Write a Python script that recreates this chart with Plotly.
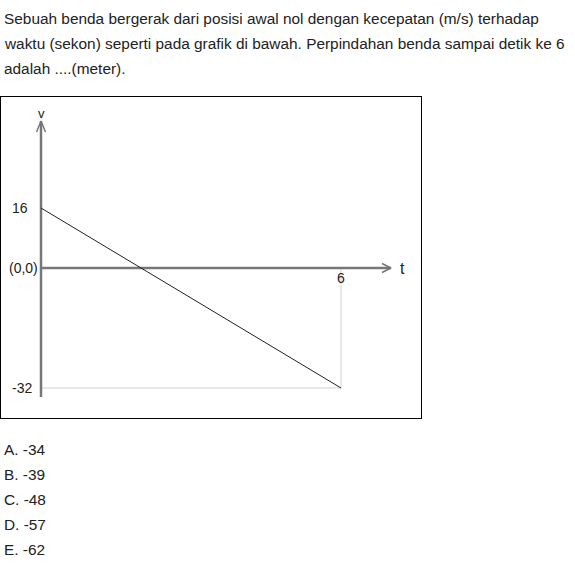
import plotly.graph_objects as go

# Data
t_vals = [0, 6]
v_vals = [16, -32]
y_tick_vals = [16, 0, -32]
y_tick_text = ["16", "(0,0)", "-32"]
x_tick_vals = [6]
x_tick_text = ["6"]
question_lines = [
    "Sebuah benda bergerak dari posisi awal nol dengan kecepatan (m/s) terhadap",
    "waktu (sekon) seperti pada grafik di bawah. Perpindahan benda sampai detik ke 6",
    "adalah ....(meter).",
]
options = ["A. -34", "B. -39", "C. -48", "D. -57", "E. -62"]

W, H = 575, 563
FONT = "Liberation Sans, Arial, sans-serif"
AX = "#777777"
TXT = "#222222"

# pixel geometry of the frame
left, right, top, bottom = 1, 421, 97, 418
x0px, sx = 41, 50.0          # px of t=0, px per second
y0px, sy = 268, 3.75         # px of v=0, px per m/s
xr = [(left - x0px) / sx, (right - x0px) / sx]
yr = [(y0px - bottom) / sy, (y0px - top) / sy]

def dx(px):
    return px / sx

def dy(px):
    return px / sy

fig = go.Figure()

# guide lines (light gray)
fig.add_trace(go.Scatter(x=[t_vals[1], t_vals[1], t_vals[0]], y=[0, v_vals[1], v_vals[1]],
                         mode="lines", line=dict(color="#e8e8e8", width=2),
                         hoverinfo="skip", showlegend=False))
# axes
y_axis_top = dy(y0px - 121)
y_axis_bot = -dy(397 - y0px)
x_axis_end = dx(391 - x0px)
fig.add_trace(go.Scatter(x=[0, 0], y=[y_axis_bot, y_axis_top], mode="lines",
                         line=dict(color=AX, width=2.5), hoverinfo="skip", showlegend=False))
fig.add_trace(go.Scatter(x=[0, x_axis_end], y=[0, 0], mode="lines",
                         line=dict(color=AX, width=2.5), hoverinfo="skip", showlegend=False))
# arrow chevrons
fig.add_trace(go.Scatter(x=[-dx(4.5), 0, dx(4.5)], y=[y_axis_top - dy(11), y_axis_top, y_axis_top - dy(11)],
                         mode="lines", line=dict(color=AX, width=1.5), hoverinfo="skip", showlegend=False))
fig.add_trace(go.Scatter(x=[x_axis_end - dx(9), x_axis_end, x_axis_end - dx(9)], y=[dy(4.5), 0, -dy(4.5)],
                         mode="lines", line=dict(color=AX, width=1.5), hoverinfo="skip", showlegend=False))
# velocity line
fig.add_trace(go.Scatter(x=t_vals, y=v_vals, mode="lines",
                         line=dict(color="#222222", width=1), hoverinfo="skip", showlegend=False))

ann = []
label_right_px = [30, 40, 34]
for val, txt, rpx in zip(y_tick_vals, y_tick_text, label_right_px):
    ann.append(dict(x=dx(rpx - x0px), y=val, xref="x", yref="y", text=txt, showarrow=False,
                    xanchor="right", yanchor="middle",
                    font=dict(family=FONT, size=14, color=TXT)))
for val, txt in zip(x_tick_vals, x_tick_text):
    ann.append(dict(x=val, y=-dy(10), xref="x", yref="y", text=txt, showarrow=False,
                    xanchor="center", yanchor="middle", font=dict(family=FONT, size=14, color=TXT)))
ann.append(dict(x=0, y=dy(y0px - 113), xref="x", yref="y", text="v", showarrow=False,
                xanchor="center", yanchor="middle", font=dict(family=FONT, size=13, color=TXT)))
ann.append(dict(x=dx(398 - x0px), y=0, xref="x", yref="y", text="t", showarrow=False,
                xanchor="left", yanchor="middle", font=dict(family=FONT, size=16, color=TXT)))

for i, line in enumerate(question_lines):
    ann.append(dict(x=2 / W, y=1 - (19 + 24.5 * i) / H, xref="paper", yref="paper", text=line,
                    showarrow=False, xanchor="left", yanchor="middle",
                    font=dict(family=FONT, size=15.4, color=TXT)))
for i, opt in enumerate(options):
    ann.append(dict(x=2 / W, y=1 - (449 + 25 * i) / H, xref="paper", yref="paper", text=opt,
                    showarrow=False, xanchor="left", yanchor="middle",
                    font=dict(family=FONT, size=15.4, color=TXT)))

fig.update_layout(
    width=W, height=H, margin=dict(l=0, r=0, t=0, b=0),
    paper_bgcolor="white", plot_bgcolor="white",
    xaxis=dict(domain=[left / W, right / W], range=xr, showgrid=False, zeroline=False,
               showticklabels=False, ticks="", showline=True, mirror=True,
               linecolor="black", linewidth=1, fixedrange=True),
    yaxis=dict(domain=[1 - bottom / H, 1 - top / H], range=yr, showgrid=False, zeroline=False,
               showticklabels=False, ticks="", showline=True, mirror=True,
               linecolor="black", linewidth=1, fixedrange=True),
    annotations=ann,
)
fig.write_html("out.html", config={"displayModeBar": False},
               post_script="document.body.style.margin='0';document.body.style.padding='0';"
                           "document.body.style.overflow='hidden';")
